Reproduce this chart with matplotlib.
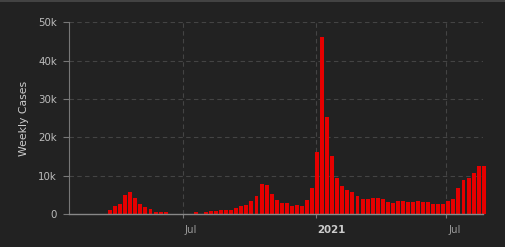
import matplotlib
matplotlib.use("Agg")
import matplotlib.pyplot as plt
import matplotlib.transforms as mtrans
import pandas as pd

# weekly case counts (thousands), one value per week starting 2020-01-26
week_start = "2020-01-26"
weekly_k = [
    0.05, 0, 0, 0, 0, 0.05, 0.05, 0.05,
    1.1, 2.2, 2.7, 5.0, 5.8, 4.2, 2.7, 1.9, 1.4, 0.7,
    0.6, 0.6, 0.05, 0.05, 0.05, 0.05, 0.05, 0.6, 0.05, 0.6,
    0.85, 0.85, 1.1, 1.1, 1.1, 1.6, 2.2, 2.4, 3.5, 4.8,
    7.9, 7.6, 5.3, 3.7, 2.9, 2.9, 2.2, 2.4, 2.2, 3.7,
    6.8, 16.2, 46.2, 25.3, 15.2, 9.5, 7.4, 6.3, 5.8, 4.8,
    4.0, 4.0, 4.2, 4.2, 4.0, 3.2, 2.9, 3.5, 3.5, 3.2,
    3.2, 3.5, 3.2, 3.2, 2.7, 2.7, 2.7, 3.5, 4.0, 6.8,
    8.9, 9.5, 10.7, 12.6, 12.6,
]
weeks = pd.date_range(week_start, periods=len(weekly_k), freq="7D")
cases = [v * 1000 for v in weekly_k]

tick_dates = ["2020-07-01", "2021-01-01", "2021-07-01"]
tick_labels = ["Jul", "2021", "Jul"]
ytick_vals = [0, 10000, 20000, 30000, 40000, 50000]
ytick_labels = ["0", "10k", "20k", "30k", "40k", "50k"]

bg = "#222222"
fig = plt.figure(figsize=(5.05, 2.47), dpi=100, facecolor=bg)
ax = fig.add_axes([0.1366, 0.1324, 0.8198, 0.7773], facecolor=bg)

ax.bar(weeks, cases, width=5.5, color="#e60000", linewidth=0, clip_on=False, zorder=2)

ax.set_ylim(0, 50000)
ax.set_xlim(pd.Timestamp("2020-01-25"), pd.Timestamp("2021-08-21"))

ax.set_yticks(ytick_vals)
ax.set_yticklabels(ytick_labels)
ax.set_xticks(pd.to_datetime(tick_dates))
ax.set_xticklabels(tick_labels)

ax.tick_params(axis="y", colors="#777777", labelcolor="#bbbbbb", length=4.3, width=0.8,
               pad=4.3, labelsize=7.4)
ax.tick_params(axis="x", colors="#777777", labelcolor="#999999", length=2.9, width=0.8,
               pad=4.6, labelsize=7.4)

offset = mtrans.ScaledTranslation(2 / 100, 0, fig.dpi_scale_trans)
for lab in ax.get_xticklabels():
    lab.set_horizontalalignment("left")
    lab.set_transform(lab.get_transform() + offset)
    if lab.get_text() == "2021":
        lab.set_fontweight("bold")
        lab.set_color("#cccccc")

for s in ["top", "right"]:
    ax.spines[s].set_visible(False)
ax.spines["left"].set_color("#777777")
ax.spines["bottom"].set_color("#888888")
ax.spines["left"].set_linewidth(0.8)
ax.spines["bottom"].set_linewidth(1.0)
ax.spines["bottom"].set_zorder(3)

for y in ytick_vals[1:]:
    ax.axhline(y, color="#444444", lw=0.8, ls=(0, (4, 3)), zorder=1)
for d in tick_dates:
    ax.axvline(pd.Timestamp(d), color="#444444", lw=0.8, ls=(0, (4, 3)), zorder=1)

ax.set_ylabel("Weekly Cases", color="#cccccc", fontsize=7.8, labelpad=7)

fig.add_artist(plt.Line2D([0, 1], [0.997, 0.997], color="#4a4a4a", lw=1.2,
                          transform=fig.transFigure))

fig.savefig("out.png", dpi=100, facecolor=bg)
